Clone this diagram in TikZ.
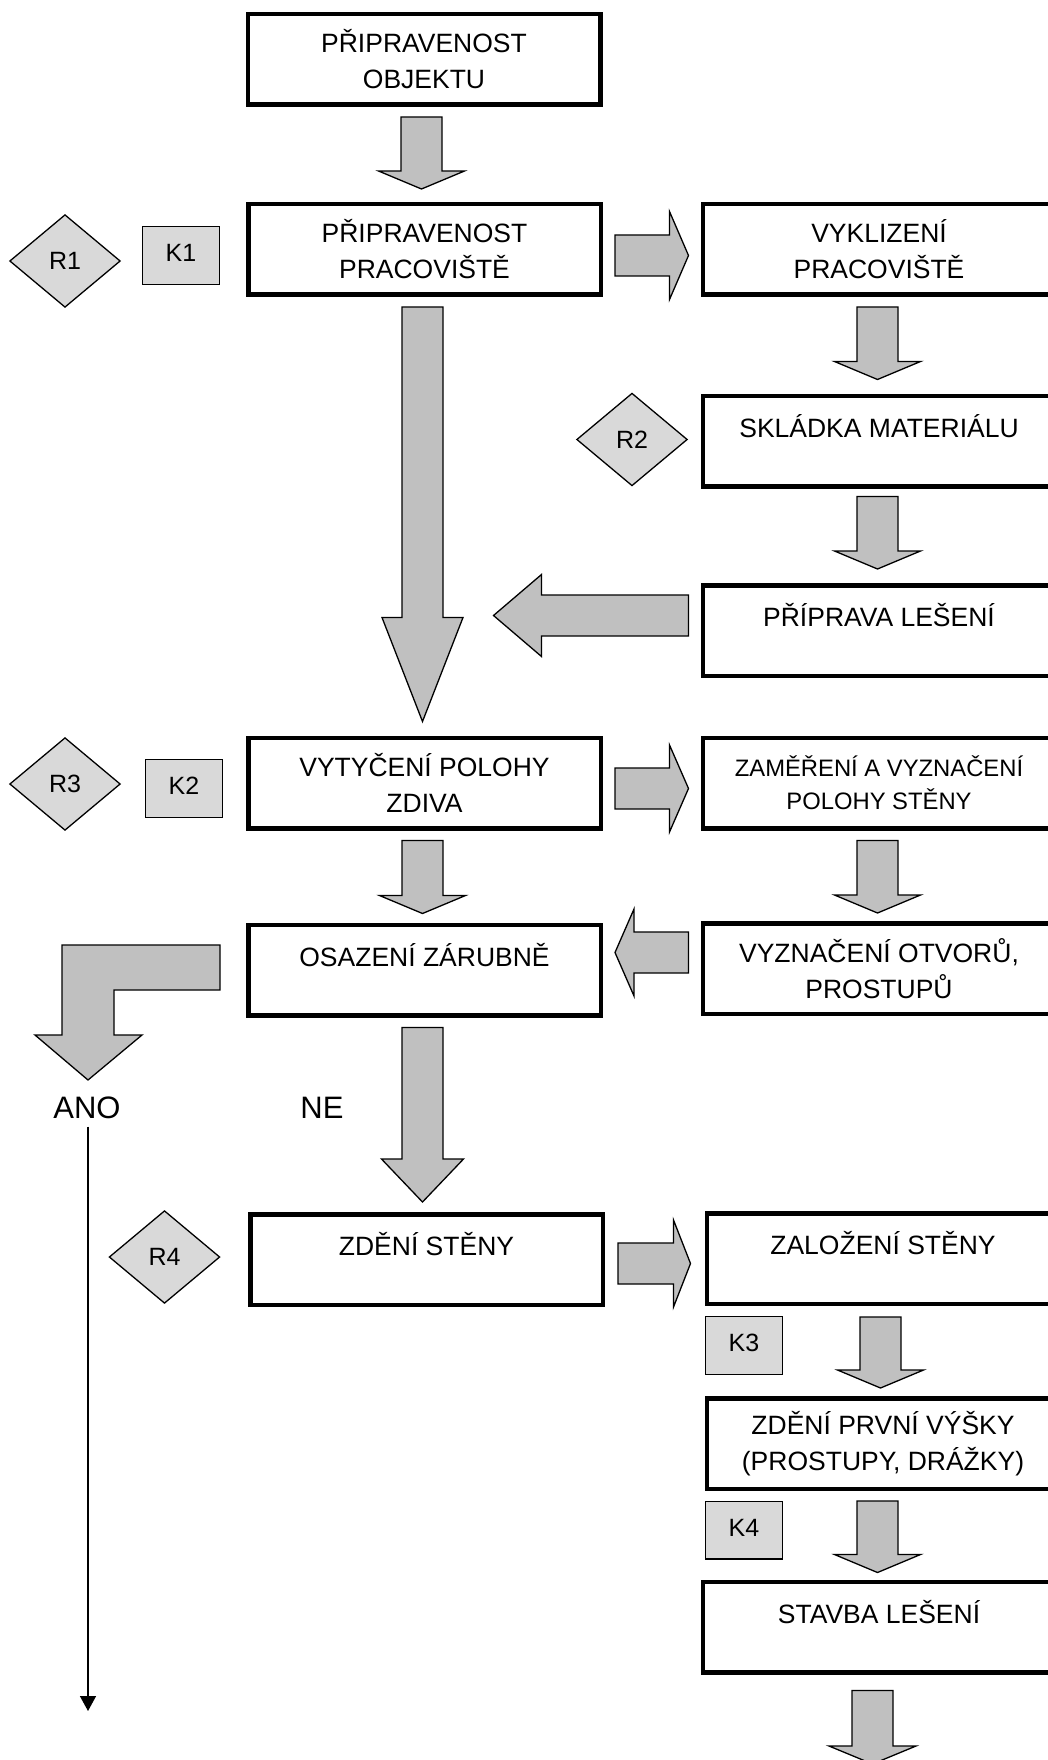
\documentclass[tikz,border=0pt]{standalone}
\usepackage{fontspec}
\setmainfont{Liberation Sans}
\usepackage{xcolor}
\usepackage{tikz}
\usetikzlibrary{calc, shapes.geometric, arrows.meta}
\definecolor{sipka}{HTML}{C0C0C0}
\definecolor{znacka}{HTML}{D9D9D9}

\begin{document}
\begin{tikzpicture}[>={Triangle[length=15pt,width=16pt]}, x=1pt, y=-1pt,
    krok/.style={draw, line width=4.5pt, minimum width=352.5pt, minimum height=90.5pt,
        inner sep=0pt, align=center, font=\fontsize{26.5}{36}\selectfont},
    jedno/.style={text height=24pt, text depth=32pt},
    riziko/.style={diamond, draw, line width=1.3pt, fill=znacka, minimum width=110.7pt,
        minimum height=92.7pt, inner sep=0pt, font=\fontsize{25}{30}\selectfont},
    kontrola/.style={draw, line width=1.3pt, fill=znacka, minimum width=76.7pt,
        minimum height=57.7pt, inner sep=0pt, text height=18pt, text depth=6pt,
        font=\fontsize{25}{30}\selectfont},
    odpoved/.style={font=\fontsize{31}{37}\selectfont},
    blok/.style={draw, line width=1.3pt, fill=sipka},
    dolu/.style n args={3}{blok, to path={let \p1=(\tikztostart), \p2=(\tikztotarget) in
        (\x1-#1,\y1) -- (\x1+#1,\y1) -- (\x1+#1,\y2+#3) -- (\x1+#2,\y2+#3)
        -- (\x1,\y2) -- (\x1-#2,\y2+#3) -- (\x1-#1,\y2+#3) -- cycle}},
    vpravo/.style n args={3}{blok, to path={let \p1=(\tikztostart), \p2=(\tikztotarget) in
        (\x1,\y1+#1) -- (\x2-#3,\y1+#1) -- (\x2-#3,\y1+#2) -- (\x2,\y1)
        -- (\x2-#3,\y1-#2) -- (\x2-#3,\y1-#1) -- (\x1,\y1-#1) -- cycle}},
    vlevo/.style n args={3}{blok, to path={let \p1=(\tikztostart), \p2=(\tikztotarget) in
        (\x1,\y1+#1) -- (\x2+#3,\y1+#1) -- (\x2+#3,\y1+#2) -- (\x2,\y1)
        -- (\x2+#3,\y1-#2) -- (\x2+#3,\y1-#1) -- (\x1,\y1-#1) -- cycle}}]

    \useasboundingbox (0,0) rectangle (1048,1760);

    % 1. Hlavni kroky (levy sloupec)
    \node[krok] (obj) at (424,59.5) {PŘIPRAVENOST\\OBJEKTU};
    \node[krok] (prac) at (424.5,249.5) {PŘIPRAVENOST\\PRACOVIŠTĚ};
    \node[krok] (vytyc) at (424.5,783) {VYTYČENÍ POLOHY\\ZDIVA};
    \node[krok, jedno] (osaz) at (424.5,970) {OSAZENÍ ZÁRUBNĚ};
    \node[krok, jedno] (zdeni) at (426.5,1259.5) {ZDĚNÍ STĚNY};

    % 2. Dilci kroky (pravy sloupec)
    \node[krok] (vykl) at (879,249.5) {VYKLIZENÍ\\PRACOVIŠTĚ};
    \node[krok, jedno] (sklad) at (879,441) {SKLÁDKA MATERIÁLU};
    \node[krok, jedno] (lespr) at (879,630.5) {PŘÍPRAVA LEŠENÍ};
    \node[krok, font=\fontsize{23.8}{33}\selectfont] (zamer) at (879,783) {ZAMĚŘENÍ A VYZNAČENÍ\\POLOHY STĚNY};
    \node[krok] (vyzn) at (879,968.5) {VYZNAČENÍ OTVORŮ,\\PROSTUPŮ};
    \node[krok, jedno] (zaloz) at (883,1258.5) {ZALOŽENÍ STĚNY};
    \node[krok] (prvni) at (883,1443.5) {ZDĚNÍ PRVNÍ VÝŠKY\\(PROSTUPY, DRÁŽKY)};
    \node[krok, jedno] (stavba) at (879,1627) {STAVBA LEŠENÍ};

    % 3. Rizika a kontroly
    \node[riziko] (r1) at (65,261) {R1};
    \node[riziko] (r2) at (632,439.5) {R2};
    \node[riziko] (r3) at (65,784) {R3};
    \node[riziko] (r4) at (164.5,1257) {R4};
    \node[kontrola] (k1) at (181,255.5) {K1};
    \node[kontrola] (k2) at (184,788.5) {K2};
    \node[kontrola] (k3) at (744,1345.5) {K3};
    \node[kontrola] (k4) at (744,1530) {K4};

    % 4. Sipky dolu
    \draw[dolu={20.5}{43}{18}] ($(obj.south)+(-2.5,10)$) to ($(prac.north)+(0,-13)$);
    \draw[dolu={20.5}{40.5}{104}] ($(prac.south)+(-2,10)$) to ($(vytyc.north)+(0,-14)$);
    \draw[dolu={20.5}{43}{18}] ($(vykl.south)+(-1.5,10)$) to ($(sklad.north)+(0,-14)$);
    \draw[dolu={20.5}{43}{18}] ($(sklad.south)+(-1.5,8)$) to ($(lespr.north)+(0,-14)$);
    \draw[dolu={20.5}{43}{18}] ($(vytyc.south)+(-2,10)$) to ($(osaz.north)+(0,-9)$);
    \draw[dolu={20.5}{43}{18}] ($(zamer.south)+(-1.5,10)$) to ($(vyzn.north)+(0,-8)$);
    \draw[dolu={20.5}{41}{43}] ($(osaz.south)+(-2,10)$) to ($(zdeni.north)+(0,-10)$);
    \draw[dolu={20.5}{43}{18}] ($(zaloz.south)+(-2.5,11)$) to ($(prvni.north)+(0,-8)$);
    \draw[dolu={20.5}{43}{18}] ($(prvni.south)+(-5.5,10)$) to ($(stavba.north)+(0,-7)$);
    \coordinate (dalsi) at (872.5,1764);
    \draw[dolu={20.5}{43.5}{18}] ($(stavba.south)+(-6.5,16)$) to (dalsi);

    % 5. Sipky do stran
    \draw[vpravo={20.5}{44}{19}] ($(prac.east)+(12,6)$) to ($(vykl.west)+(-12,0)$);
    \draw[vpravo={20.5}{43.5}{19}] ($(vytyc.east)+(12,5.5)$) to ($(zamer.west)+(-12,0)$);
    \draw[vpravo={20.5}{43.5}{17}] ($(zdeni.east)+(13,4)$) to ($(zaloz.west)+(-14,0)$);
    \draw[vlevo={20.5}{41}{48}] ($(lespr.west)+(-12,-15)$) to ($(lespr.west)+(-207,-15)$);
    \draw[vlevo={20.5}{43.5}{19}] ($(vyzn.west)+(-12,-16)$) to ($(osaz.east)+(12,0)$);

    % 6. Vetveni ANO / NE
    \draw[blok] ($(osaz.west)+(-26,-25)$) -- ++(-158,0) -- ++(0,90) -- ++(-27,0)
        -- ++(53,45) -- ++(54,-45) -- ++(-28,0) -- ++(0,-45) -- ++(106,0) -- cycle;
    \node[odpoved] (ano) at (87,1108) {ANO};
    \node[odpoved] (ne) at (322,1108) {NE};
    \coordinate (konec) at (88,1711);
    \draw[->, line width=1.5pt] ($(ano.south)+(1,4)$) -- (konec);

\end{tikzpicture}
\end{document}
